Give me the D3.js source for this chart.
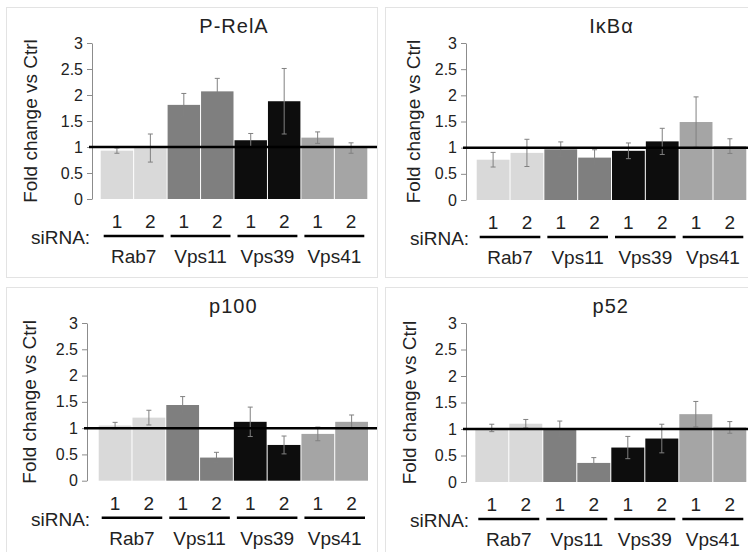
<!DOCTYPE html>
<html>
<head>
<meta charset="utf-8">
<script src="https://cdn.jsdelivr.net/npm/d3@7"></script>
<style>
  body { margin: 0; background: #fff; }
  svg { display: block; font-family: "Liberation Sans", Arial, sans-serif; }
</style>
</head>
<body>
<svg id="chart" width="748" height="552"></svg>
<script>
var groups = ['Rab7', 'Vps11', 'Vps39', 'Vps41'];
var sirnas = ['1', '2'];
var groupColors = ['#d9d9d9', '#7f7f7f', '#0d0d0d', '#a5a5a5'];
var titles = ['P-RelA', 'IκBα', 'p100', 'p52'];
var yTicks = [0, 0.5, 1, 1.5, 2, 2.5, 3];
var yTickLabels = ['0', '0.5', '1', '1.5', '2', '2.5', '3'];

// means and error (one per bar: Rab7 1,2, Vps11 1,2, Vps39 1,2, Vps41 1,2)
var relaMean = [0.93, 0.98, 1.81, 2.07, 1.13, 1.88, 1.18, 0.98];
var relaErr  = [0.05, 0.27, 0.22, 0.25, 0.13, 0.63, 0.11, 0.10];
var ikbaMean = [0.77, 0.90, 0.97, 0.81, 0.94, 1.12, 1.49, 1.03];
var ikbaErr  = [0.14, 0.26, 0.14, 0.15, 0.15, 0.25, 0.48, 0.14];
var p100Mean = [1.05, 1.20, 1.44, 0.44, 1.12, 0.68, 0.89, 1.12];
var p100Err  = [0.06, 0.14, 0.16, 0.10, 0.28, 0.17, 0.13, 0.13];
var p52Mean  = [1.02, 1.10, 1.00, 0.36, 0.65, 0.82, 1.28, 1.03];
var p52Err   = [0.07, 0.08, 0.15, 0.10, 0.21, 0.27, 0.24, 0.11];

var means = [relaMean, ikbaMean, p100Mean, p52Mean];
var errs = [relaErr, ikbaErr, p100Err, p52Err];

// panel placement (pixels)
var layout = [
    {x: 6,   y: 7,   axisX: 86, bar0: 94.7, bar1: 361.3, yBot: 192,   yTop: 36, labX: 31},
    {x: 385, y: 7,   axisX: 81, bar0: 91.7, bar1: 361.3, yBot: 193,   yTop: 36, labX: 35},
    {x: 6,   y: 287, axisX: 81, bar0: 92.7, bar1: 362,   yBot: 193.7, yTop: 36, labX: 30},
    {x: 385, y: 287, axisX: 81, bar0: 90.3, bar1: 361.3, yBot: 195,   yTop: 36, labX: 31}
];
var panelW = 371, panelH = 270;
var textColor = '#222';

var svg = d3.select('#chart');

var keys = [];
groups.forEach(g => sirnas.forEach(s => keys.push(g + '-' + s)));

layout.forEach(function(L, p) {
    var g = svg.append('g').attr('transform', 'translate(' + L.x + ',' + L.y + ')');

    g.append('rect')
        .attr('x', 0.5).attr('y', 0.5)
        .attr('width', panelW).attr('height', panelH)
        .attr('fill', 'none')
        .attr('stroke', '#e3e3e3')
        .attr('stroke-width', 1);

    var x = d3.scaleBand().domain(keys).range([L.bar0, L.bar1]).paddingInner(0.03);
    var y = d3.scaleLinear().domain([0, 3]).range([L.yBot, L.yTop]);

    var data = keys.map((k, i) => ({
        key: k, grp: Math.floor(i / 2), sir: sirnas[i % 2],
        v: means[p][i], e: errs[p][i]
    }));

    // bars
    g.selectAll('rect.bar').data(data).enter().append('rect')
        .attr('class', 'bar')
        .attr('x', d => x(d.key))
        .attr('width', x.bandwidth())
        .attr('y', d => y(d.v))
        .attr('height', d => y(0) - y(d.v))
        .attr('fill', d => groupColors[d.grp]);

    // y axis
    var yAxis = d3.axisLeft(y).tickValues(yTicks)
        .tickFormat((d, i) => yTickLabels[i])
        .tickSize(5).tickSizeOuter(0).tickPadding(4);
    var ax = g.append('g').attr('transform', 'translate(' + L.axisX + ',0)').call(yAxis);
    ax.select('.domain').attr('stroke', '#8c8c8c');
    ax.selectAll('.tick line').attr('stroke', '#8c8c8c');
    ax.selectAll('.tick text')
        .attr('fill', textColor)
        .style('font-size', '16px')
        .style('font-family', '"Liberation Sans", Arial, sans-serif');

    // error bars
    var eb = g.selectAll('g.err').data(data).enter().append('g').attr('class', 'err')
        .attr('stroke', '#808080').attr('stroke-width', 1);
    eb.append('line')
        .attr('x1', d => x(d.key) + x.bandwidth() / 2)
        .attr('x2', d => x(d.key) + x.bandwidth() / 2)
        .attr('y1', d => y(d.v + d.e))
        .attr('y2', d => y(d.v - d.e));
    [1, -1].forEach(function(sgn) {
        eb.append('line')
            .attr('x1', d => x(d.key) + x.bandwidth() / 2 - 2.5)
            .attr('x2', d => x(d.key) + x.bandwidth() / 2 + 2.5)
            .attr('y1', d => y(d.v + sgn * d.e))
            .attr('y2', d => y(d.v + sgn * d.e));
    });

    // reference line at 1
    g.append('line')
        .attr('x1', L.axisX - 3).attr('x2', panelW)
        .attr('y1', y(1)).attr('y2', y(1))
        .attr('stroke', '#000').attr('stroke-width', 2.5);

    // title
    g.append('text')
        .attr('x', (L.bar0 + L.bar1) / 2)
        .attr('y', 26)
        .attr('text-anchor', 'middle')
        .attr('fill', textColor)
        .style('font-size', '20px')
        .style('letter-spacing', '1px')
        .text(titles[p]);

    // y title
    g.append('text')
        .attr('transform', 'translate(' + L.labX + ',' + ((L.yTop + L.yBot) / 2) + ') rotate(-90)')
        .attr('text-anchor', 'middle')
        .attr('fill', textColor)
        .style('font-size', '19px')
        .text('Fold change vs Ctrl');

    // siRNA numbers
    g.selectAll('text.num').data(data).enter().append('text')
        .attr('class', 'num')
        .attr('x', d => x(d.key) + x.bandwidth() / 2)
        .attr('y', L.yBot + 29)
        .attr('text-anchor', 'middle')
        .attr('fill', textColor)
        .style('font-size', '19px')
        .text(d => d.sir);

    g.append('text')
        .attr('x', 25)
        .attr('y', L.yBot + 45)
        .attr('fill', textColor)
        .style('font-size', '19px')
        .text('siRNA:');

    // group underlines and names
    groups.forEach(function(name, gi) {
        var x0 = x(keys[gi * 2]);
        var x1 = x(keys[gi * 2 + 1]) + x.bandwidth();
        g.append('line')
            .attr('x1', x0 + 3).attr('x2', x1 - 3)
            .attr('y1', L.yBot + 37).attr('y2', L.yBot + 37)
            .attr('stroke', '#000').attr('stroke-width', 2.5);
        g.append('text')
            .attr('x', (x0 + x1) / 2)
            .attr('y', L.yBot + 64)
            .attr('text-anchor', 'middle')
            .attr('fill', textColor)
            .style('font-size', '19px')
            .text(name);
    });
});
</script>
</body>
</html>
